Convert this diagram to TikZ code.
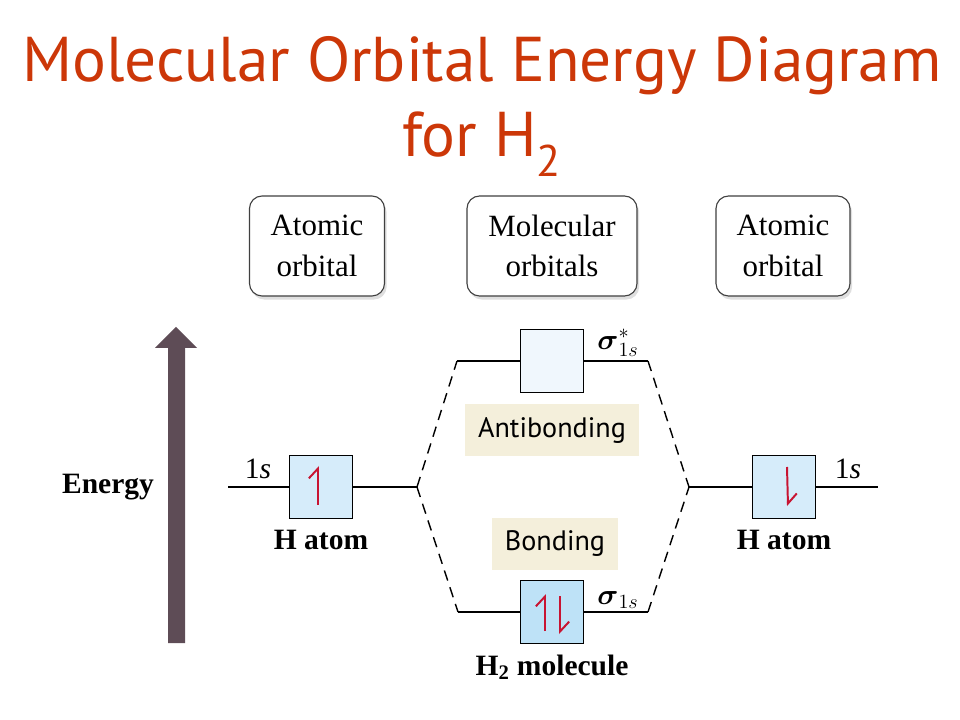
\documentclass[tikz,border=0pt]{standalone}
\usepackage{amsmath}
\usepackage{fontspec}
\setmainfont{Liberation Serif}
\newfontfamily\titlefont{PT Sans}
\newfontfamily\tagfont{PT Sans}
\usepackage{tikz}
\usetikzlibrary{arrows.meta,shadows}
\definecolor{titlered}{RGB}{204,55,8}
\definecolor{atomblue}{RGB}{214,236,250}
\definecolor{bondblue}{RGB}{190,226,247}
\definecolor{antiblue}{RGB}{240,247,253}
\definecolor{tagbeige}{RGB}{244,239,219}
\definecolor{spinred}{RGB}{200,20,50}
\definecolor{energyarrow}{RGB}{94,76,86}

\begin{document}
\begin{tikzpicture}[x=0.025cm,y=-0.025cm]
\tikzstyle{orb}=[rectangle, minimum size=1.575cm, inner sep=0pt, draw=black, line width=1pt, fill=atomblue]
\tikzstyle{headbox}=[rectangle, rounded corners=9pt, minimum height=2.5cm, inner sep=0pt, draw=black!75, line width=0.8pt, fill=white, align=center, drop shadow={opacity=0.25, shadow xshift=1.5pt, shadow yshift=-2.5pt}, font=\fontsize{22}{29}\selectfont]
\tikzstyle{tagbox}=[rectangle, fill=tagbeige, inner sep=0pt, font=\tagfont\fontsize{20}{22}\selectfont]
\tikzstyle{orbline}=[line width=1.4pt]
\tikzstyle{dashline}=[line width=1pt, dash pattern=on 7.5pt off 5pt]
\tikzstyle{spin}=[line width=1.4pt, draw=spinred, -{Straight Barb[harpoon,length=7pt,width=13pt]}]
\tikzstyle{atomname}=[font=\bfseries\fontsize{21}{24}\selectfont, label distance=4pt]
\tikzstyle{sublabel}=[font=\fontsize{21}{24}\selectfont]
\useasboundingbox (0,0) rectangle (960,720);

	% title
	\node[text=titlered, font=\titlefont\fontsize{45}{50}\selectfont, anchor=base] (title_1) at (482,82) {Molecular Orbital Energy Diagram};
	\node[text=titlered, font=\titlefont\fontsize{45}{50}\selectfont, anchor=base] (title_2) at (482,157) {for H\textsubscript{2}};

	% column heads
	\node[headbox, minimum width=3.375cm] (head_L) at (317,246) {Atomic\\orbital};
	\node[headbox, minimum width=4.25cm] (head_M) at (552,246) {Molecular\\orbitals};
	\node[headbox, minimum width=3.35cm] (head_R) at (783,246) {Atomic\\orbital};

	% energy axis
	\fill[energyarrow] (168,643) -- (168,348) -- (155,348) -- (176,327) -- (197,348) -- (185,348) -- (185,643) -- cycle;
	\node[atomname] (energy) at (108,487) {Energy};

	% orbitals
	\node[orb] (orb_L) at (321,487) [label={[atomname]below:H atom}]{};
	\node[orb] (orb_R) at (784,487) [label={[atomname]below:H atom}]{};
	\node[orb, fill=antiblue] (orb_A) at (552,361) {};
	\node[orb, fill=bondblue] (orb_B) at (552,612) [label={[atomname]below:H\textsubscript{2} molecule}]{};

	\node[sublabel] (s_L) at (258,469) {1\textit{s}};
	\node[sublabel] (s_R) at (848,469) {1\textit{s}};
	\node[sublabel] (sig_A) at (618,343) {$\boldsymbol{\sigma}^{*}_{1s}$};
	\node[sublabel] (sig_B) at (618,600) {$\boldsymbol{\sigma}_{1s}$};

	\node[tagbox, minimum width=4.325cm, minimum height=1.275cm] (anti) at (552,430) {Antibonding};
	\node[tagbox, minimum width=3.15cm, minimum height=1.3cm] (bond) at (555,544) {Bonding};

	\coordinate (end_L) at (228,487);
	\coordinate (j_L) at (417,487);
	\coordinate (a_L) at (457,361);
	\coordinate (a_R) at (648,361);
	\coordinate (j_R) at (689,487);
	\coordinate (end_R) at (878,487);
	\coordinate (b_L) at (458,612);
	\coordinate (b_R) at (648,612);

	\path
		(end_L) edge [orbline] (orb_L)
		(orb_L) edge [orbline] (j_L)
		(orb_R) edge [orbline] (end_R)
		(j_R) edge [orbline] (orb_R)
		(a_L) edge [orbline] (orb_A)
		(orb_A) edge [orbline] (a_R)
		(b_L) edge [orbline] (orb_B)
		(orb_B) edge [orbline] (b_R)
		(j_L) edge [dashline] (a_L)
		(j_L) edge [dashline] (b_L)
		(a_R) edge [dashline] (j_R)
		(b_R) edge [dashline] (j_R);

	% electrons
	\draw[spin] (318,505) -- (318,466);
	\draw[spin] (787,467) -- (788,506);
	\draw[spin] (545,631) -- (545,594);
	\draw[spin] (560,596) -- (560,634);

\end{tikzpicture}
\end{document}
